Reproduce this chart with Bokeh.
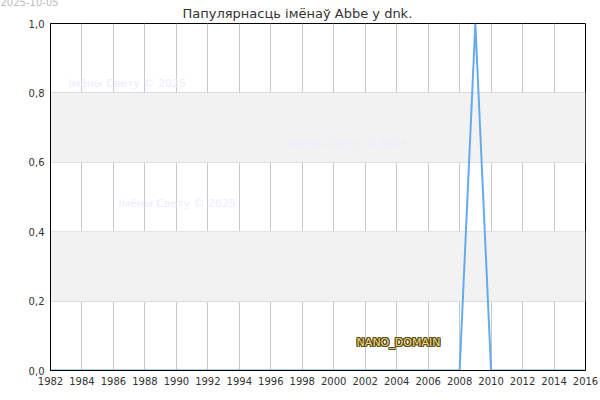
from bokeh.plotting import figure
from bokeh.models import Label, BoxAnnotation, CustomJSTickFormatter, FixedTicker, Title
from bokeh.embed import file_html
from bokeh.resources import INLINE

years = list(range(1982, 2017))
values = [1.0 if y == 2009 else 0.0 for y in years]
x_ticks = list(range(1982, 2017, 2))
y_ticks = [0.0, 0.2, 0.4, 0.6, 0.8, 1.0]
title_text = "Папулярнасць імёнаў Abbe у dnk."
date_text = "2025-10-05"
watermark_text = "Імёны Свету © 2025"
domain_text = "NANO_DOMAIN"

FONT = "DejaVu Sans"

p = figure(frame_width=535, frame_height=347, x_range=(1982, 2016), y_range=(0, 1),
           output_backend="svg", toolbar_location=None, title=None,
           min_border_left=50, min_border_right=15, min_border_top=0, min_border_bottom=30)
p.outline_line_color = "black"
p.outline_line_width = 1
p.background_fill_color = "white"
p.border_fill_color = "white"

p.add_layout(Title(text=title_text, text_font=FONT, text_font_size="13px",
                   text_font_style="normal", text_color="#333333", align="left",
                   offset=132, standoff=6), "above")
p.add_layout(Title(text=date_text, text_font=FONT, text_font_size="10px",
                   text_font_style="normal", text_color="#bbbbbb", align="left",
                   offset=-50, standoff=-10), "above")

for lo, hi in [(0.2, 0.4), (0.6, 0.8)]:
    p.add_layout(BoxAnnotation(bottom=lo, top=hi, fill_color="#f2f2f2", fill_alpha=1.0,
                               line_alpha=0, level="underlay"))

p.xgrid.ticker = FixedTicker(ticks=x_ticks)
p.ygrid.ticker = FixedTicker(ticks=y_ticks)
p.xgrid.grid_line_color = "#c8c8c8"
p.ygrid.grid_line_color = "#dddddd"
p.xaxis.ticker = FixedTicker(ticks=x_ticks)
p.yaxis.ticker = FixedTicker(ticks=y_ticks)
p.yaxis.formatter = CustomJSTickFormatter(code="return tick.toFixed(1).replace('.', ',');")
for ax in (p.xaxis, p.yaxis):
    ax.major_tick_out = 0
    ax.major_tick_in = 0
    ax.minor_tick_out = 0
    ax.minor_tick_in = 0
    ax.axis_line_color = "black"
    ax.major_label_text_font = FONT
    ax.major_label_text_font_size = "10px"
    ax.major_label_text_color = "#333333"
p.xaxis.major_label_standoff = 6
p.yaxis.major_label_standoff = 6

p.line(years, values, line_color="#66aaee", line_width=2)

# watermarks
for sx, sy in [(18, 287), (239, 227), (68, 167)]:
    p.add_layout(Label(x=sx, y=sy, x_units="screen", y_units="screen", text=watermark_text,
                       text_font=FONT, text_font_size="11px", text_color="#ececfc",
                       text_baseline="middle", text_align="left"))

# domain label with outline
for dx, dy in [(-1, 0), (1, 0), (0, -1), (0, 1), (-1, -1), (1, 1), (-1, 1), (1, -1)]:
    p.add_layout(Label(x=348, y=28, x_units="screen", y_units="screen", text=domain_text,
                       x_offset=dx, y_offset=dy,
                       text_font=FONT, text_font_size="11px", text_color="#5a4a18",
                       text_baseline="middle", text_align="center"))
p.add_layout(Label(x=348, y=28, x_units="screen", y_units="screen", text=domain_text,
                   text_font=FONT, text_font_size="11px", text_color="#f0dc80",
                   text_baseline="middle", text_align="center"))

open("out.html", "w").write(file_html(p, INLINE))
